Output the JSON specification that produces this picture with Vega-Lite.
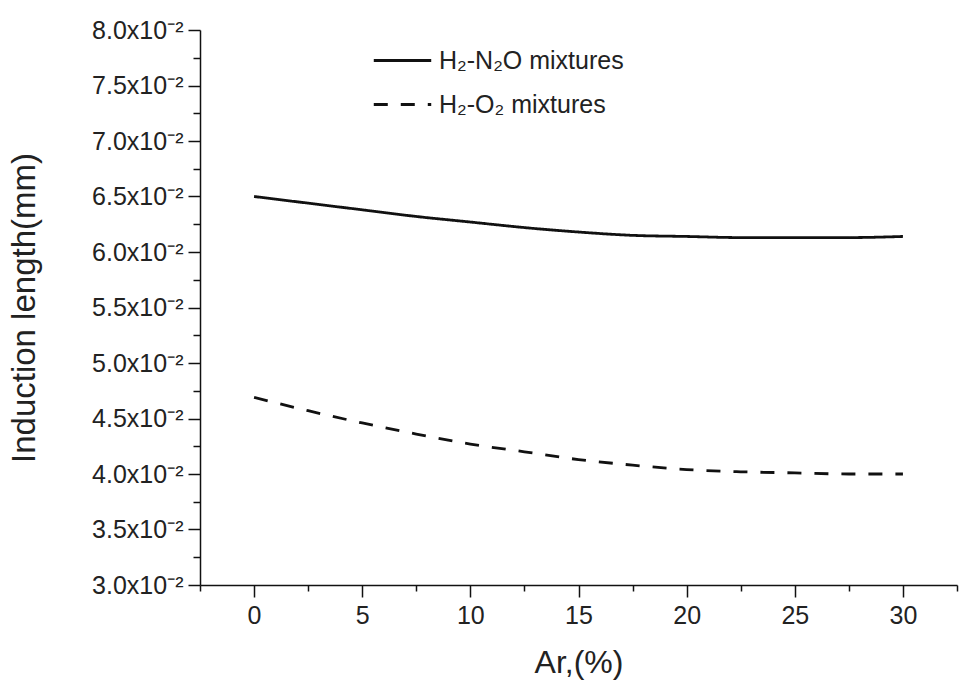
{
  "$schema": "https://vega.github.io/schema/vega-lite/v6.json",
  "width": 757,
  "height": 555,
  "autosize": {"type": "none"},
  "padding": {"left": 200, "top": 30, "right": 8, "bottom": 113},
  "background": "white",
  "config": {
    "view": {"stroke": null},
    "font": "Liberation Sans",
    "axis": {"grid": false, "domainColor": "#111", "tickColor": "#111", "domainWidth": 1.5, "tickWidth": 1.5, "labelColor": "#222", "titleColor": "#222", "labelFont": "Liberation Sans", "titleFont": "Liberation Sans", "titleFontWeight": "normal"}
  },
  "data": {
    "values": [
      {"series": "H₂-N₂O mixtures", "ar": 0, "len": 0.0650},
      {"series": "H₂-N₂O mixtures", "ar": 2.5, "len": 0.0644},
      {"series": "H₂-N₂O mixtures", "ar": 5, "len": 0.0638},
      {"series": "H₂-N₂O mixtures", "ar": 7.5, "len": 0.0632},
      {"series": "H₂-N₂O mixtures", "ar": 10, "len": 0.0627},
      {"series": "H₂-N₂O mixtures", "ar": 12.5, "len": 0.0622},
      {"series": "H₂-N₂O mixtures", "ar": 15, "len": 0.0618},
      {"series": "H₂-N₂O mixtures", "ar": 17.5, "len": 0.0615},
      {"series": "H₂-N₂O mixtures", "ar": 20, "len": 0.0614},
      {"series": "H₂-N₂O mixtures", "ar": 22.5, "len": 0.0613},
      {"series": "H₂-N₂O mixtures", "ar": 25, "len": 0.0613},
      {"series": "H₂-N₂O mixtures", "ar": 27.5, "len": 0.0613},
      {"series": "H₂-N₂O mixtures", "ar": 30, "len": 0.0614},
      {"series": "H₂-O₂ mixtures", "ar": 0, "len": 0.0469},
      {"series": "H₂-O₂ mixtures", "ar": 2.5, "len": 0.0457},
      {"series": "H₂-O₂ mixtures", "ar": 5, "len": 0.0446},
      {"series": "H₂-O₂ mixtures", "ar": 7.5, "len": 0.0436},
      {"series": "H₂-O₂ mixtures", "ar": 10, "len": 0.0427},
      {"series": "H₂-O₂ mixtures", "ar": 12.5, "len": 0.0420},
      {"series": "H₂-O₂ mixtures", "ar": 15, "len": 0.0413},
      {"series": "H₂-O₂ mixtures", "ar": 17.5, "len": 0.0408},
      {"series": "H₂-O₂ mixtures", "ar": 20, "len": 0.0404},
      {"series": "H₂-O₂ mixtures", "ar": 22.5, "len": 0.0402},
      {"series": "H₂-O₂ mixtures", "ar": 25, "len": 0.0401},
      {"series": "H₂-O₂ mixtures", "ar": 27.5, "len": 0.0400},
      {"series": "H₂-O₂ mixtures", "ar": 30, "len": 0.0400}
    ]
  },
  "layer": [
    {
      "mark": {"type": "line", "color": "#111", "strokeWidth": 2.8, "interpolate": "monotone"},
      "encoding": {
        "x": {"field": "ar", "type": "quantitative", "scale": {"domain": [-2.5, 32.5], "nice": false, "zero": false},
          "axis": {"orient": "bottom", "values": [0, 5, 10, 15, 20, 25, 30], "tickSize": 12, "labelFontSize": 25, "labelPadding": 6, "title": "Ar,(%)", "titleFontSize": 32, "titlePadding": 19}},
        "y": {"field": "len", "type": "quantitative", "scale": {"domain": [0.03, 0.08], "nice": false, "zero": false},
          "axis": {"orient": "left", "values": [0.03, 0.035, 0.04, 0.045, 0.05, 0.055, 0.06, 0.065, 0.07, 0.075, 0.08], "tickSize": 12, "labelFontSize": 25, "labelPadding": 5, "labelExpr": "format(datum.value*100, '.1f') + 'x10⁻²'", "title": "Induction length(mm)", "titleFontSize": 33, "titlePadding": 50}},
        "strokeDash": {"field": "series", "type": "nominal",
          "scale": {"domain": ["H₂-N₂O mixtures", "H₂-O₂ mixtures"], "range": [[1, 0], [14, 13]]},
          "legend": {"title": null, "orient": "none", "legendX": 172, "legendY": 0, "padding": 0, "labelFontSize": 25, "labelLimit": 500, "labelColor": "#222", "labelFont": "Liberation Sans", "symbolType": "stroke", "symbolSize": 3300, "symbolStrokeWidth": 2.8, "symbolStrokeColor": "#111", "labelOffset": 6, "rowPadding": -25, "symbolDash": null}}
      }
    },
    {
      "mark": {"type": "line", "opacity": 0},
      "encoding": {
        "x": {"field": "ar", "type": "quantitative",
          "axis": {"orient": "bottom", "values": [-2.5, 2.5, 7.5, 12.5, 17.5, 22.5, 27.5, 32.5], "tickSize": 6, "labels": false, "domain": false, "title": null}},
        "y": {"field": "len", "type": "quantitative",
          "axis": {"orient": "left", "values": [0.0325, 0.0375, 0.0425, 0.0475, 0.0525, 0.0575, 0.0625, 0.0675, 0.0725, 0.0775], "tickSize": 7, "labels": false, "domain": false, "title": null}},
        "detail": {"field": "series"}
      }
    }
  ],
  "resolve": {"axis": {"x": "independent", "y": "independent"}}
}
